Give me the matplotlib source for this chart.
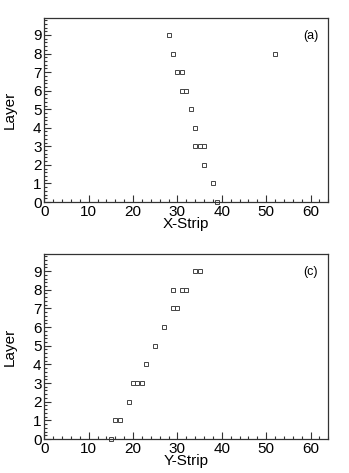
import matplotlib
matplotlib.use("Agg")
import matplotlib.pyplot as plt
from matplotlib.ticker import MultipleLocator

plt.rcParams['font.family'] = ['Liberation Sans', 'DejaVu Sans']

# Panel (a): X-Strip hits per layer
x_strip = [28, 29, 52, 30, 31, 31, 32, 33, 34, 34, 35, 36, 36, 38, 39]
x_layer = [9, 8, 8, 7, 7, 6, 6, 5, 4, 3, 3, 3, 2, 1, 0]

# Panel (c): Y-Strip hits per layer
y_strip = [34, 35, 29, 31, 32, 29, 30, 27, 25, 23, 20, 21, 22, 19, 16, 17, 15]
y_layer = [9, 9, 8, 8, 8, 7, 7, 6, 5, 4, 3, 3, 3, 2, 1, 1, 0]

W, H = 349, 473
fig = plt.figure(figsize=(W / 100, H / 100), dpi=100)

def make_axes(top_px, bot_px, strips, layers, xlabel, tag):
    left_px, right_px = 44.3, 328.3
    ax = fig.add_axes([left_px / W, 1 - bot_px / H, (right_px - left_px) / W, (bot_px - top_px) / H])
    ax.plot(strips, layers, linestyle='none', marker='s', markersize=2.7,
            markerfacecolor='none', markeredgecolor='#444444', markeredgewidth=0.7, clip_on=False)
    ax.set_xlim(0, 64)
    ax.set_ylim(0, 9.9)
    ax.xaxis.set_major_locator(MultipleLocator(10))
    ax.xaxis.set_minor_locator(MultipleLocator(2))
    ax.yaxis.set_major_locator(MultipleLocator(1))
    ax.yaxis.set_minor_locator(MultipleLocator(0.2))
    ax.tick_params(axis='both', which='both', direction='in', top=False, right=False, color='#333333')
    ax.tick_params(axis='x', which='major', length=5, width=0.8, labelsize=11, pad=2)
    ax.tick_params(axis='x', which='minor', length=2.5, width=0.8)
    ax.tick_params(axis='y', which='major', length=5, width=0.8, labelsize=11, pad=2)
    ax.tick_params(axis='y', which='minor', length=2.5, width=0.8)
    for s in ax.spines.values():
        s.set_linewidth(0.9)
        s.set_color('#333333')
    ax.set_xlabel(xlabel, fontsize=11, labelpad=-1)
    ax.set_ylabel('Layer', fontsize=11, labelpad=12)
    ax.text(0.938, 0.905, tag, transform=ax.transAxes, fontsize=9, ha='center', va='center')
    return ax

make_axes(18.3, 202.0, x_strip, x_layer, 'X-Strip', '(a)')
make_axes(254.3, 439.0, y_strip, y_layer, 'Y-Strip', '(c)')

fig.savefig('out.png', dpi=100)
